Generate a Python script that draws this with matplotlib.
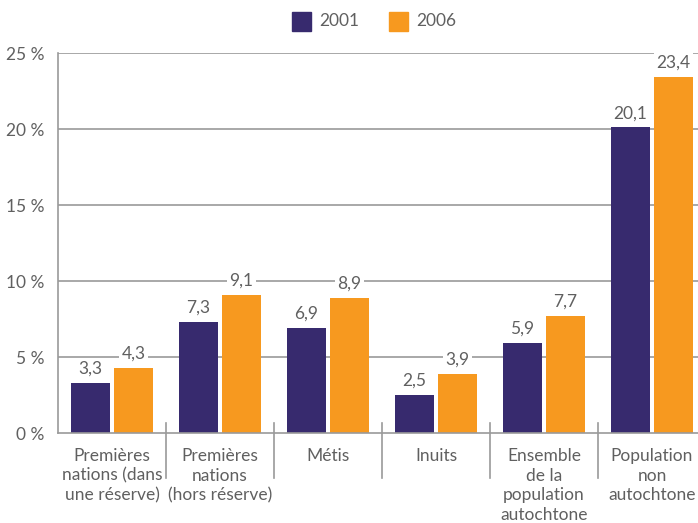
import matplotlib
matplotlib.use("Agg")
import matplotlib.pyplot as plt
from matplotlib.patches import Rectangle
from matplotlib.lines import Line2D

categories = [
    "Premières\nnations (dans\nune réserve)",
    "Premières\nnations\n(hors réserve)",
    "Métis",
    "Inuits",
    "Ensemble\nde la\npopulation\nautochtone",
    "Population\nnon\nautochtone",
]
series_names = ["2001", "2006"]
values_2001 = [3.3, 7.3, 6.9, 2.5, 5.9, 20.1]
values_2006 = [4.3, 9.1, 8.9, 3.9, 7.7, 23.4]
y_ticks = [0, 5, 10, 15, 20, 25]

purple = "#372a6e"
orange = "#f7991f"
grid_c = "#9a9a9a"
text_c = "#606060"

plt.rcParams["font.family"] = ["Lato", "DejaVu Sans"]

W, H = 698, 523
fig = plt.figure(figsize=(W / 100, H / 100), dpi=100)
# axes spans 6 category slots of 108 px each, starting at x=58
ax_left, ax_w = 58, 648
ax_bottom, ax_h = H - 433, 380
ax = fig.add_axes([ax_left / W, ax_bottom / H, ax_w / W, ax_h / H])

n = len(categories)
bar_w = 39 / 108
gap = 4 / 108
xs = list(range(n))
x1 = [x - gap / 2 - bar_w / 2 for x in xs]
x2 = [x + gap / 2 + bar_w / 2 for x in xs]

ax.set_xlim(-0.5, n - 0.5)
ax.set_ylim(0, 25)

for y in y_ticks[1:]:
    ax.axhline(y, color=grid_c, lw=1.2, zorder=1)

ax.bar(x1, values_2001, width=bar_w, color=purple, zorder=2)
ax.bar(x2, values_2006, width=bar_w, color=orange, zorder=2)

for xa, va in zip(x1 + x2, values_2001 + values_2006):
    ax.annotate(f"{va:.1f}".replace(".", ","), (xa, va), xytext=(0, 4.5),
                textcoords="offset points", ha="center", va="bottom",
                fontsize=12.5, color=text_c, zorder=3,
                bbox=dict(boxstyle="square,pad=0.15", fc="white", ec="none"))

for s in ["top", "right"]:
    ax.spines[s].set_visible(False)
for s in ["left", "bottom"]:
    ax.spines[s].set_color(grid_c)
    ax.spines[s].set_linewidth(1.2)

ax.set_yticks(y_ticks)
ax.set_yticklabels([f"{t} %" for t in y_ticks], fontsize=12.5, color=text_c)
ax.tick_params(axis="y", length=0, pad=10)
ax.set_xticks([])

# category separators crossing the baseline
for b in range(1, n):
    ax.add_line(Line2D([b - 0.5, b - 0.5], [0.66, -2.95], color=grid_c,
                       lw=1.2, clip_on=False, zorder=1))

for x, c in zip(xs, categories):
    ax.text(x, -1.0, c, ha="center", va="top", fontsize=12.5, color=text_c,
            linespacing=1.27)

# legend
leg = [(292, purple, series_names[0]), (389, orange, series_names[1])]
for lx, col, name in leg:
    fig.patches.append(Rectangle((lx / W, (H - 31) / H), 19 / W, 19 / H,
                                 transform=fig.transFigure, color=col))
    fig.text((lx + 27) / W, (H - 21.5) / H, name, ha="left", va="center",
             fontsize=12.5, color=text_c)

fig.savefig("out.png", dpi=100)
